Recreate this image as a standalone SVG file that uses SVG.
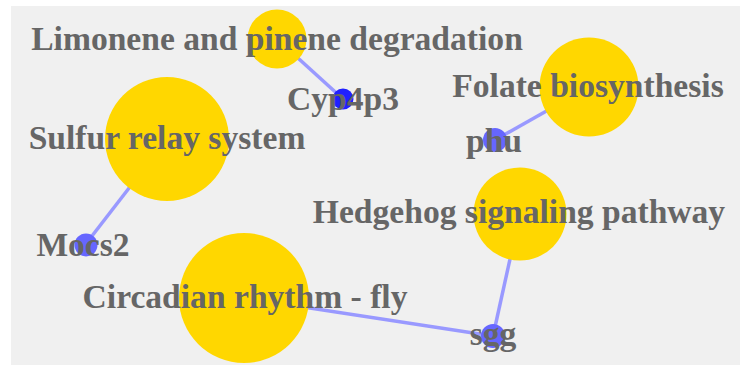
<svg xmlns="http://www.w3.org/2000/svg" width="740" height="365" viewBox="0 0 740 365">
<style>
.bg{fill:#F0F0F0}
.edge{stroke:#9999FF;stroke-width:3.5;fill:none}
.path{fill:#FFD700}
.gene{fill:#6666FF}
.lbl{font-family:"Liberation Serif","Times New Roman",serif;font-weight:bold;font-size:33.6px;fill:#666666;text-anchor:middle}
</style>
<rect class="bg" x="11" y="6" width="729" height="359"/>
<g id="edges">
<line class="edge" x1="277" y1="39" x2="343" y2="99"/>
<line class="edge" x1="589" y1="87" x2="495" y2="140"/>
<line class="edge" x1="167" y1="139" x2="85" y2="245"/>
<line class="edge" x1="520" y1="214" x2="493" y2="336"/>
<line class="edge" x1="244" y1="298" x2="493" y2="336"/>
</g>
<g id="n-limonene"><circle class="path" cx="277" cy="39" r="29.5"/></g>
<g id="n-sulfur"><circle class="path" cx="167" cy="139" r="62"/></g>
<g id="n-folate"><circle class="path" cx="589" cy="87" r="49.5"/></g>
<g id="n-hedgehog"><circle class="path" cx="520" cy="214" r="46.5"/></g>
<g id="n-circadian"><circle class="path" cx="244" cy="298" r="65"/></g>
<g id="n-cyp4p3"><circle cx="343" cy="99" r="10.5" fill="#2020FF"/></g>
<g id="n-phu"><circle class="gene" cx="495" cy="140" r="12"/></g>
<g id="n-mocs2"><circle class="gene" cx="86" cy="245" r="11.5"/></g>
<g id="n-sgg"><circle class="gene" cx="493" cy="336" r="12"/></g>
<g id="labels">
<text class="lbl" x="277" y="50">Limonene and pinene degradation</text>
<text class="lbl" x="167" y="149">Sulfur relay system</text>
<text class="lbl" x="588" y="97">Folate biosynthesis</text>
<text class="lbl" x="519" y="223">Hedgehog signaling pathway</text>
<text class="lbl" x="245" y="308">Circadian rhythm - fly</text>
<text class="lbl" x="343" y="110">Cyp4p3</text>
<text class="lbl" x="494" y="152">phu</text>
<text class="lbl" x="83" y="256">Mocs2</text>
<text class="lbl" x="493" y="345">sgg</text>
</g>
</svg>
